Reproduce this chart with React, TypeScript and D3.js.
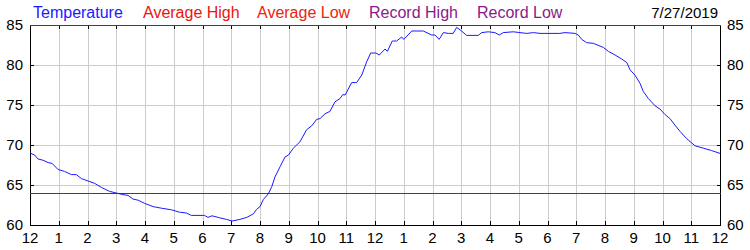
import React from "react";
import * as d3 from "d3";

const hours = [0,0.16,0.28,0.45,0.63,0.77,0.97,1.2,1.44,1.61,1.79,2.02,2.25,2.48,2.77,3.0,3.23,3.41,3.58,3.76,3.99,4.28,4.57,4.92,5.2,5.44,5.61,6.07,6.19,6.33,6.6,6.83,7.03,7.3,7.54,7.77,7.88,8.0,8.12,8.29,8.41,8.52,8.7,8.87,8.99,9.16,9.39,9.62,9.8,9.97,10.09,10.26,10.43,10.61,10.78,10.88,10.96,11.19,11.36,11.54,11.71,11.85,12.03,12.15,12.35,12.43,12.6,12.75,12.93,13.0,13.28,13.68,13.97,14.09,14.23,14.38,14.55,14.72,14.84,14.96,15.19,15.59,15.71,15.94,16.17,16.32,16.46,16.81,17.04,17.28,17.51,17.74,18.43,18.61,18.96,19.07,19.19,19.36,19.6,19.94,20.12,20.35,20.58,20.76,20.87,21.04,21.22,21.33,21.51,21.74,21.91,22.09,22.26,22.43,22.61,22.84,23.13,23.42,23.71,24];
const temps = [69.0,68.75,68.25,68.1,67.8,67.7,66.95,66.7,66.3,66.3,65.8,65.5,65.2,64.7,64.2,64.0,63.8,63.7,63.25,63.1,62.7,62.3,62.1,61.9,61.6,61.5,61.2,61.2,60.95,61.15,60.9,60.7,60.5,60.7,60.95,61.4,61.95,62.3,63.2,63.9,64.8,66.0,67.3,68.5,68.75,69.6,70.4,71.9,72.4,73.2,73.3,73.9,74.2,75.4,75.8,76.3,76.25,77.8,77.8,78.75,80.4,81.5,81.5,81.25,82.0,81.7,83.0,83.0,83.5,83.2,84.25,84.25,83.75,83.75,83.2,84.05,83.95,83.95,84.7,84.4,83.7,83.7,84.05,84.15,84.05,83.75,84.05,84.15,84.05,83.95,84.05,83.95,83.95,84.05,83.95,83.75,83.2,82.8,82.7,82.2,81.7,81.25,80.75,80.3,79.4,78.75,77.7,76.7,75.8,74.9,74.5,73.8,73.3,72.5,71.7,70.8,69.9,69.6,69.3,68.95];

const hourLabels = ["12","1","2","3","4","5","6","7","8","9","10","11","12","1","2","3","4","5","6","7","8","9","10","11","12"];
const yTicks = [60, 65, 70, 75, 80, 85];
const averageHigh = 85;
const averageLow = 64;
const legendItems = [
  { label: "Temperature", color: "#1a1aff", x: 33 },
  { label: "Average High", color: "#ee1111", x: 143 },
  { label: "Average Low", color: "#ee2211", x: 257 },
  { label: "Record High", color: "#8a1a8a", x: 369 },
  { label: "Record Low", color: "#8a1a8a", x: 477 },
];
const dateLabel = "7/27/2019";

const L = 30, R = 720, T = 25, B = 225;
const narrow = "'Liberation Sans Narrow', 'Arial Narrow', 'Liberation Sans', Arial, sans-serif";
const sans = "'Liberation Sans', Arial, sans-serif";

export default function App() {
  const x = d3.scaleLinear().domain([0, 24]).range([L, R]);
  const y = d3.scaleLinear().domain([60, 85]).range([B, T]);
  const pts: [number, number][] = hours.map((h, i) => [h, temps[i]]);
  const line = d3.line<[number, number]>().x(d => x(d[0])).y(d => y(d[1]));
  const hourTicks = d3.range(0, 25);

  return (
    <div style={{ position: "absolute", left: 0, top: 0 }}>
      <svg width={750} height={250} style={{ display: "block", background: "#fff" }}>
        {/* grid */}
        {hourTicks.slice(1, -1).map(h => (
          <line key={"vg" + h} x1={Math.round(x(h)) + 0.5} x2={Math.round(x(h)) + 0.5} y1={T} y2={B} stroke="#cccccc" strokeWidth={1} />
        ))}
        {yTicks.slice(1, -1).map(v => (
          <line key={"hg" + v} x1={L} x2={R} y1={Math.round(y(v)) + 0.5} y2={Math.round(y(v)) + 0.5} stroke="#cccccc" strokeWidth={1} />
        ))}
        {/* frame */}
        <line x1={L + 0.5} x2={L + 0.5} y1={T} y2={B + 1} stroke="#000" />
        <line x1={R + 0.5} x2={R + 0.5} y1={T} y2={B + 1} stroke="#000" />
        <line x1={L} x2={R + 1} y1={B + 0.5} y2={B + 0.5} stroke="#000" />
        {/* ticks */}
        {hourTicks.slice(1, -1).map(h => (
          <g key={"t" + h}>
            <line x1={Math.round(x(h)) + 0.5} x2={Math.round(x(h)) + 0.5} y1={B} y2={B - 4} stroke="#000" />
            <line x1={Math.round(x(h)) + 0.5} x2={Math.round(x(h)) + 0.5} y1={T} y2={T + 4} stroke="#000" />
          </g>
        ))}
        {yTicks.slice(1, -1).map(v => (
          <g key={"yt" + v}>
            <line x1={L} x2={L + 4} y1={Math.round(y(v)) + 0.5} y2={Math.round(y(v)) + 0.5} stroke="#000" />
            <line x1={R - 3} x2={R + 1} y1={Math.round(y(v)) + 0.5} y2={Math.round(y(v)) + 0.5} stroke="#000" />
          </g>
        ))}
        {/* averages */}
        <line x1={L} x2={R + 1} y1={Math.round(y(averageLow)) + 0.5} y2={Math.round(y(averageLow)) + 0.5} stroke="#dd0000" />
        <line x1={L} x2={R + 1} y1={Math.round(y(averageHigh)) + 0.5} y2={Math.round(y(averageHigh)) + 0.5} stroke="#dd0000" />
        {/* temperature */}
        <path d={line(pts) || ""} fill="none" stroke="#1a1aff" strokeWidth={1} />
        {/* axis labels */}
        {hourLabels.map((lab, i) => (
          <text key={"xl" + i} x={x(i)} y={243} textAnchor="middle" fontFamily={narrow} fontSize={15} fill="#000">{lab}</text>
        ))}
        {yTicks.map(v => (
          <g key={"yl" + v}>
            <text x={23} y={y(v) + 5} textAnchor="end" fontFamily={narrow} fontSize={15} fill="#000">{v}</text>
            <text x={727} y={y(v) + 5} textAnchor="start" fontFamily={narrow} fontSize={15} fill="#000">{v}</text>
          </g>
        ))}
        {/* legend */}
        {legendItems.map(it => (
          <text key={it.label} x={it.x} y={18} fontFamily={sans} fontSize={16} fill={it.color}>{it.label}</text>
        ))}
        <text x={718} y={18} textAnchor="end" fontFamily={narrow} fontSize={15} fill="#000">{dateLabel}</text>
      </svg>
    </div>
  );
}
